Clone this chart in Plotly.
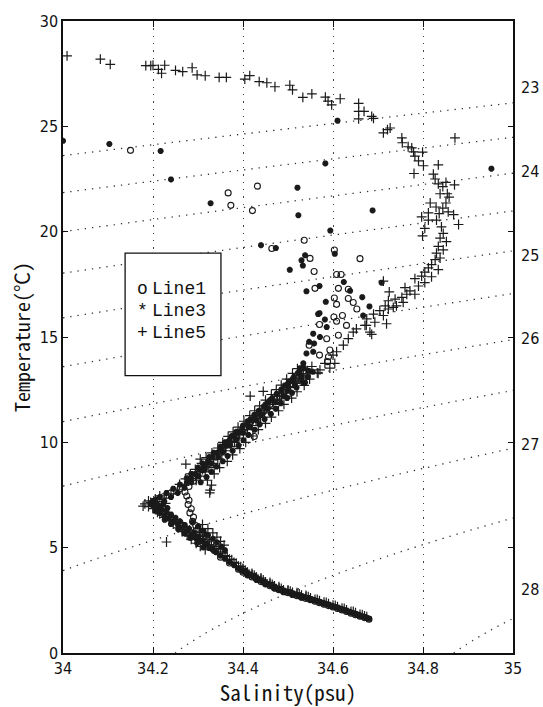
import numpy as np
import plotly.graph_objects as go

# ---------------- data ----------------
SERIES_NAMES = ["Line1", "Line3", "Line5"]

# Line1 (open circles): salinity (psu), temperature (degC)
line1_pts = [
    (34.150, 23.86), (34.367, 21.84), (34.373, 21.25), (34.432, 22.16), (34.421, 21.00),
    (34.536, 19.59), (34.464, 19.20), (34.603, 19.13), (34.660, 18.72), (34.549, 18.73),
    (34.558, 18.11), (34.560, 17.31), (34.608, 17.97), (34.618, 17.97), (34.612, 17.31),
    (34.634, 17.27), (34.603, 16.85), (34.608, 16.55), (34.634, 16.83), (34.645, 16.64),
    (34.653, 16.33), (34.621, 16.02), (34.602, 15.95), (34.608, 15.75), (34.630, 15.55),
    (34.570, 15.59), (34.586, 14.92), (34.612, 15.08), (34.547, 14.61), (34.593, 14.38),
    (34.590, 14.06), (34.570, 14.14), (34.588, 13.83),
    (34.535, 13.40), (34.520, 13.05), (34.505, 12.75), (34.490, 12.40), (34.475, 12.10),
    (34.460, 11.80), (34.445, 11.45), (34.430, 11.15), (34.415, 10.85), (34.400, 10.50),
    (34.385, 10.20), (34.370, 9.90), (34.355, 9.60), (34.340, 9.30), (34.325, 9.00),
    (34.310, 8.70), (34.300, 8.40), (34.290, 8.15), (34.280, 7.90), (34.425, 10.28),
    (34.260, 7.80), (34.271, 7.64), (34.275, 7.45), (34.280, 7.25), (34.278, 7.05),
    (34.285, 6.85), (34.282, 6.65), (34.290, 6.45), (34.288, 6.25), (34.295, 6.05),
    (34.300, 5.85), (34.310, 5.65), (34.318, 5.45), (34.223, 7.42), (34.240, 7.60),
    (34.330, 5.00), (34.350, 4.55), (34.370, 4.27), (34.390, 3.98), (34.410, 3.74),
    (34.430, 3.52), (34.450, 3.30), (34.470, 3.10), (34.490, 2.93), (34.510, 2.79),
    (34.530, 2.66), (34.550, 2.53), (34.570, 2.39), (34.590, 2.25), (34.610, 2.11),
    (34.630, 1.97), (34.650, 1.82), (34.670, 1.68),
    (34.400, 3.83), (34.420, 3.61), (34.440, 3.39), (34.460, 3.19), (34.480, 3.00),
    (34.500, 2.86), (34.520, 2.72), (34.540, 2.59), (34.560, 2.46), (34.580, 2.32),
    (34.600, 2.18), (34.620, 2.04), (34.640, 1.89), (34.660, 1.75), (34.680, 1.60),
]

# Line3 (asterisks)
line3_pts = [
    (34.000, 24.31), (34.103, 24.16), (34.217, 23.83), (34.240, 22.48), (34.328, 21.35),
    (34.521, 22.09), (34.523, 20.78), (34.583, 23.24), (34.610, 25.27), (34.594, 20.05),
    (34.688, 21.01), (34.952, 22.99), (34.440, 19.36), (34.473, 19.22), (34.538, 18.88),
    (34.530, 18.64), (34.533, 18.39), (34.504, 18.19), (34.604, 18.95), (34.541, 17.17),
    (34.570, 17.42), (34.584, 16.67), (34.570, 16.13), (34.624, 17.61), (34.665, 16.89),
    (34.681, 16.45), (34.638, 17.19), (34.582, 15.83), (34.708, 17.58), (34.567, 16.09),
    (34.586, 15.47), (34.556, 15.16), (34.571, 15.00), (34.547, 14.77), (34.558, 14.69),
    (34.541, 14.22), (34.556, 14.30), (34.534, 13.75), (34.527, 13.52), (34.538, 12.84),
    (34.667, 16.02),
    (34.535, 13.55), (34.525, 13.30), (34.510, 13.00), (34.500, 12.80), (34.485, 12.50),
    (34.475, 12.30), (34.460, 12.00), (34.450, 11.80), (34.435, 11.50), (34.425, 11.30),
    (34.410, 11.00), (34.400, 10.80), (34.385, 10.50), (34.375, 10.30), (34.360, 10.00),
    (34.350, 9.80), (34.335, 9.50), (34.325, 9.30), (34.310, 9.00), (34.300, 8.80),
    (34.285, 8.50), (34.275, 8.30), (34.260, 8.00), (34.245, 7.80), (34.230, 7.60),
    (34.215, 7.40), (34.200, 7.20),
    (34.545, 13.40), (34.530, 13.10), (34.515, 12.75), (34.500, 12.45), (34.490, 12.20),
    (34.470, 11.90), (34.455, 11.60), (34.440, 11.30), (34.430, 11.05), (34.415, 10.75),
    (34.400, 10.45), (34.385, 10.15), (34.370, 9.85), (34.355, 9.55), (34.345, 9.30),
    (34.330, 9.00), (34.315, 8.70), (34.300, 8.40), (34.285, 8.10), (34.270, 7.85),
    (34.255, 7.60), (34.240, 7.40), (34.225, 7.20), (34.210, 7.05),
    (34.276, 8.10), (34.285, 8.30), (34.294, 8.50), (34.303, 8.70), (34.315, 8.90),
    (34.322, 9.10), (34.332, 9.30), (34.342, 9.50), (34.351, 9.70), (34.361, 9.90),
    (34.370, 10.10), (34.380, 10.30), (34.389, 10.50), (34.399, 10.70), (34.410, 10.90),
    (34.417, 11.10), (34.427, 11.30), (34.437, 11.50), (34.446, 11.70), (34.456, 11.90),
    (34.465, 12.10), (34.475, 12.30), (34.486, 12.50), (34.493, 12.70), (34.503, 12.90),
    (34.513, 13.10), (34.522, 13.30), (34.532, 13.50),
    (34.306, 8.10), (34.319, 8.35), (34.330, 8.60), (34.341, 8.85), (34.355, 9.10),
    (34.366, 9.35), (34.377, 9.60), (34.390, 9.85), (34.401, 10.10), (34.412, 10.35),
    (34.426, 10.60), (34.437, 10.85), (34.448, 11.10), (34.462, 11.35), (34.473, 11.60),
    (34.484, 11.85), (34.498, 12.10), (34.509, 12.35), (34.519, 12.60), (34.533, 12.85),
    (34.544, 13.10), (34.555, 13.35),
    (34.200, 7.00), (34.210, 6.90), (34.220, 6.80), (34.230, 6.70), (34.240, 6.58),
    (34.250, 6.42), (34.260, 6.25), (34.270, 6.08), (34.280, 5.90), (34.290, 5.70),
    (34.300, 5.50), (34.310, 5.33), (34.320, 5.17), (34.330, 4.95), (34.340, 4.78),
    (34.350, 4.62), (34.360, 4.47), (34.370, 4.32), (34.380, 4.17), (34.390, 4.02),
    (34.205, 6.75), (34.215, 6.65), (34.225, 6.50), (34.235, 6.40), (34.245, 6.25),
    (34.255, 6.10), (34.265, 5.95), (34.275, 5.80), (34.285, 5.60), (34.295, 5.45),
    (34.305, 5.30), (34.315, 5.15), (34.325, 4.98), (34.335, 4.85),
    (34.195, 7.10), (34.205, 7.28), (34.212, 6.98), (34.222, 7.05), (34.232, 6.88),
    (34.226, 6.32), (34.240, 6.12), (34.256, 5.88), (34.270, 5.68), (34.284, 5.46),
    (34.298, 5.22), (34.312, 5.02), (34.300, 6.00), (34.308, 5.80), (34.318, 5.62),
    (34.288, 6.20), (34.301, 6.02), (34.312, 5.80), (34.322, 5.60), (34.333, 5.42),
    (34.342, 5.25), (34.352, 5.05), (34.360, 4.88),
    (34.400, 3.88), (34.410, 3.78), (34.420, 3.66), (34.430, 3.55), (34.440, 3.44),
    (34.450, 3.33), (34.460, 3.23), (34.470, 3.12), (34.480, 3.02), (34.490, 2.96),
    (34.500, 2.90), (34.510, 2.82), (34.520, 2.76), (34.530, 2.70), (34.540, 2.63),
    (34.550, 2.56), (34.560, 2.50), (34.570, 2.43), (34.580, 2.36), (34.590, 2.29),
    (34.600, 2.22), (34.610, 2.15), (34.620, 2.08), (34.630, 2.00), (34.640, 1.93),
    (34.650, 1.86), (34.660, 1.78), (34.670, 1.71), (34.680, 1.63),
    (34.410, 3.68), (34.430, 3.46), (34.450, 3.25), (34.470, 3.05), (34.490, 2.88),
    (34.510, 2.75), (34.530, 2.62),
    (34.395, 3.95), (34.405, 3.83), (34.415, 3.72), (34.425, 3.60), (34.435, 3.50),
    (34.445, 3.38), (34.455, 3.28), (34.465, 3.17), (34.475, 3.07), (34.485, 2.99),
    (34.495, 2.93), (34.505, 2.86), (34.515, 2.79), (34.525, 2.73), (34.535, 2.66),
    (34.545, 2.60), (34.555, 2.53), (34.565, 2.46), (34.575, 2.39), (34.585, 2.32),
    (34.595, 2.25), (34.605, 2.18), (34.615, 2.11), (34.625, 2.04), (34.635, 1.96),
    (34.645, 1.89), (34.655, 1.82), (34.665, 1.74), (34.675, 1.67),
]

# Line5 (plus signs)
line5_pts = [
    (34.009, 28.34), (34.083, 28.19), (34.105, 27.94), (34.184, 27.88), (34.195, 27.88),
    (34.200, 27.90), (34.212, 27.70), (34.219, 27.52), (34.226, 27.90), (34.250, 27.66),
    (34.266, 27.60), (34.287, 27.78), (34.298, 27.44), (34.316, 27.40), (34.347, 27.32),
    (34.363, 27.32), (34.404, 27.24), (34.415, 27.41), (34.436, 27.12), (34.453, 27.07),
    (34.471, 26.88), (34.504, 26.95), (34.510, 26.73), (34.533, 26.37), (34.553, 26.54),
    (34.583, 26.39), (34.589, 26.20), (34.597, 26.02), (34.616, 26.31), (34.657, 26.09),
    (34.657, 25.71), (34.669, 25.71), (34.657, 25.35), (34.686, 25.47), (34.690, 25.38),
    (34.727, 24.92), (34.712, 24.69), (34.721, 24.84), (34.753, 24.45), (34.754, 24.22),
    (34.767, 24.03), (34.775, 23.98), (34.779, 23.79), (34.782, 23.59), (34.799, 23.78),
    (34.790, 23.36), (34.801, 23.13), (34.780, 22.76), (34.834, 23.17), (34.823, 22.73),
    (34.827, 22.50), (34.834, 22.27), (34.844, 22.14), (34.851, 22.34), (34.870, 22.22),
    (34.838, 21.80), (34.854, 21.80), (34.858, 21.64), (34.816, 21.36), (34.829, 21.17),
    (34.844, 21.12), (34.851, 21.36), (34.868, 20.81), (34.812, 20.89), (34.836, 20.86),
    (34.856, 20.94), (34.879, 20.34), (34.830, 20.55), (34.812, 20.55), (34.797, 20.70),
    (34.804, 20.16), (34.799, 19.80), (34.841, 20.23), (34.845, 19.92), (34.838, 19.69),
    (34.852, 19.53), (34.834, 19.30), (34.845, 19.14), (34.830, 18.98), (34.838, 18.75),
    (34.827, 18.67), (34.819, 18.44), (34.834, 18.20), (34.812, 18.28), (34.804, 18.08),
    (34.819, 17.86), (34.797, 17.89), (34.782, 17.77), (34.804, 17.58), (34.790, 17.42),
    (34.771, 17.19), (34.782, 17.03), (34.764, 17.03), (34.753, 16.88), (34.738, 16.80),
    (34.756, 16.64), (34.723, 16.72), (34.716, 16.48), (34.734, 16.41), (34.704, 16.25),
    (34.690, 16.09), (34.712, 16.02), (34.675, 15.86), (34.693, 15.70), (34.671, 15.55),
    (34.682, 15.23), (34.719, 15.63), (34.760, 17.34), (34.871, 24.45),
    (34.741, 16.48), (34.723, 16.33), (34.674, 15.55), (34.652, 15.39), (34.645, 15.23),
    (34.686, 15.12), (34.634, 14.92), (34.623, 14.61), (34.608, 14.30), (34.600, 14.14),
    (34.582, 13.75), (34.604, 13.75), (34.593, 13.52), (34.571, 13.44), (34.567, 13.28),
    (34.549, 13.28), (34.527, 13.05), (34.516, 12.81), (34.497, 12.50), (34.482, 12.19),
    (34.467, 11.95), (34.453, 11.64), (34.438, 11.41), (34.423, 11.09), (34.408, 10.78),
    (34.393, 10.47), (34.378, 10.23), (34.364, 9.92), (34.353, 9.61),
    (34.416, 12.19), (34.445, 12.42), (34.497, 12.19), (34.712, 17.65), (34.725, 17.14),
    (34.273, 8.97), (34.305, 9.20), (34.182, 7.08), (34.230, 5.27), (34.327, 7.73),
    (34.330, 7.97), (34.178, 6.97), (34.326, 7.60),
    (34.530, 13.15), (34.520, 12.90), (34.505, 12.65), (34.490, 12.35), (34.475, 12.05),
    (34.460, 11.80), (34.445, 11.50), (34.430, 11.25), (34.415, 10.95), (34.400, 10.60),
    (34.385, 10.35), (34.370, 10.05), (34.360, 9.75), (34.345, 9.45), (34.335, 9.20),
    (34.320, 8.95), (34.310, 8.70), (34.295, 8.45), (34.285, 8.20), (34.270, 7.95),
    (34.255, 7.75), (34.240, 7.55), (34.225, 7.35), (34.210, 7.20), (34.200, 7.05),
    (34.296, 8.20), (34.305, 8.40), (34.316, 8.60), (34.324, 8.80), (34.334, 9.00),
    (34.344, 9.20), (34.353, 9.40), (34.362, 9.60), (34.373, 9.80), (34.381, 10.00),
    (34.391, 10.20), (34.401, 10.40), (34.410, 10.60), (34.420, 10.80), (34.429, 11.00),
    (34.439, 11.20), (34.448, 11.40), (34.458, 11.60), (34.467, 11.80), (34.477, 12.00),
    (34.486, 12.20), (34.496, 12.40), (34.505, 12.60), (34.515, 12.80), (34.524, 13.00),
    (34.534, 13.20), (34.543, 13.40), (34.553, 13.60),
    (34.259, 8.00), (34.272, 8.27), (34.283, 8.50), (34.294, 8.72), (34.308, 9.00),
    (34.318, 9.27), (34.331, 9.50), (34.344, 9.73), (34.355, 10.00), (34.367, 10.28),
    (34.378, 10.50), (34.389, 10.72), (34.402, 11.00), (34.415, 11.27), (34.426, 11.50),
    (34.437, 11.73), (34.450, 12.00), (34.463, 12.27), (34.474, 12.50), (34.485, 12.72),
    (34.497, 13.00), (34.510, 13.27), (34.521, 13.50),
    (34.321, 8.20), (34.336, 8.50), (34.348, 8.80), (34.365, 9.10), (34.377, 9.40),
    (34.393, 9.70), (34.406, 10.00), (34.422, 10.30), (34.434, 10.60), (34.450, 10.90),
    (34.463, 11.20), (34.479, 11.50), (34.491, 11.80), (34.508, 12.10), (34.520, 12.40),
    (34.536, 12.70), (34.548, 13.00), (34.565, 13.30),
    (34.190, 6.95), (34.200, 6.85), (34.215, 6.75), (34.230, 6.55), (34.245, 6.35),
    (34.260, 6.15), (34.275, 5.95), (34.290, 5.75), (34.300, 5.60), (34.310, 5.42),
    (34.320, 5.28), (34.330, 5.12), (34.340, 4.95), (34.350, 4.80), (34.360, 4.62),
    (34.370, 4.46), (34.380, 4.30), (34.390, 4.12), (34.400, 3.97),
    (34.195, 7.15), (34.205, 7.32), (34.215, 7.46), (34.210, 6.68), (34.222, 6.58),
    (34.236, 6.44), (34.228, 7.10), (34.190, 7.22), (34.252, 6.22), (34.266, 6.04),
    (34.281, 5.84), (34.296, 5.62), (34.265, 5.76), (34.280, 5.55), (34.302, 5.36),
    (34.316, 5.56), (34.326, 5.40), (34.335, 5.05), (34.345, 4.90), (34.355, 4.74),
    (34.365, 4.58), (34.375, 4.43), (34.385, 4.26), (34.395, 4.10),
    (34.215, 6.60), (34.225, 6.44), (34.236, 6.28), (34.245, 6.12), (34.256, 5.94),
    (34.265, 5.77), (34.276, 5.58), (34.285, 5.39), (34.296, 5.21), (34.305, 5.06),
    (34.316, 4.90),
    (34.310, 6.10), (34.322, 5.90), (34.333, 5.70), (34.342, 5.50), (34.350, 5.30),
    (34.358, 5.12),
    (34.410, 3.84), (34.420, 3.72), (34.430, 3.60), (34.440, 3.50), (34.450, 3.38),
    (34.460, 3.28), (34.470, 3.18), (34.480, 3.08), (34.490, 3.00), (34.500, 2.95),
    (34.510, 2.88), (34.520, 2.81), (34.530, 2.75), (34.540, 2.68), (34.550, 2.61),
    (34.560, 2.55), (34.570, 2.48), (34.580, 2.41), (34.590, 2.34), (34.600, 2.27),
    (34.610, 2.20), (34.620, 2.13), (34.630, 2.05), (34.640, 1.98), (34.650, 1.91),
    (34.660, 1.83), (34.670, 1.76),
    (34.405, 3.93), (34.425, 3.70), (34.445, 3.47), (34.465, 3.26), (34.485, 3.07),
    (34.505, 2.94), (34.525, 2.80), (34.545, 2.67), (34.565, 2.54), (34.585, 2.40),
    (34.605, 2.26), (34.625, 2.12), (34.645, 1.97), (34.665, 1.82), (34.675, 1.72),
    (34.400, 4.02), (34.420, 3.78), (34.440, 3.56), (34.460, 3.35), (34.480, 3.15),
    (34.500, 3.00), (34.520, 2.86), (34.540, 2.73),
]

# isopycnal (sigma-t) levels drawn as dotted lines, and their labels on the right
SIGMA_LEVELS = [23.0, 23.5, 24.0, 24.5, 25.0, 25.5, 26.0, 26.5, 27.0, 27.5, 28.0]
SIGMA_LABELS = ["23", "24", "25", "26", "27", "28"]
SIGMA_LABEL_T = [26.82, 22.87, 18.89, 14.92, 9.92, 3.0]   # vertical placement

X_TICKS = [34.0, 34.2, 34.4, 34.6, 34.8, 35.0]
X_TICKTEXT = ["34", "34.2", "34.4", "34.6", "34.8", "35"]
Y_TICKS = [0, 5, 10, 15, 20, 25, 30]

LEGEND_SYMBOLS = ["o", "*", "+"]


def sigma_t(S, T):
    """UNESCO (1980) density of sea water at p = 0, minus 1000."""
    rw = (999.842594 + 6.793952e-2 * T - 9.095290e-3 * T**2 + 1.001685e-4 * T**3
          - 1.120083e-6 * T**4 + 6.536332e-9 * T**5)
    A = 0.824493 - 4.0899e-3 * T + 7.6438e-5 * T**2 - 8.2467e-7 * T**3 + 5.3875e-9 * T**4
    B = -5.72466e-3 + 1.0227e-4 * T - 1.6546e-6 * T**2
    C = 4.8314e-4
    return rw + A * S + B * S**1.5 + C * S**2 - 1000.0


sg = np.linspace(34.0, 35.0, 201)
tg = np.linspace(0.0, 30.0, 301)
SS, TT = np.meshgrid(sg, tg)
Z = sigma_t(SS, TT)

INK = "#1a1a1a"
fig = go.Figure()

fig.add_trace(go.Contour(
    x=sg, y=tg, z=Z,
    contours=dict(coloring="none", start=SIGMA_LEVELS[0], end=SIGMA_LEVELS[-1],
                  size=SIGMA_LEVELS[1] - SIGMA_LEVELS[0], showlabels=False),
    line=dict(color="#333333", width=1.3, dash="1.3px,6px"),
    showscale=False, hoverinfo="skip", showlegend=False, name="sigma-t",
))

styles = {
    "Line1": dict(symbol="circle-open", size=6, color=INK, line=dict(width=1.1, color=INK)),
    "Line3": dict(symbol="asterisk-open", size=5, color=INK, line=dict(width=2.0, color=INK)),
    "Line5": dict(symbol="cross-thin-open", size=7, color=INK, line=dict(width=1.2, color=INK)),
}
for name, pts in zip(SERIES_NAMES, [line1_pts, line3_pts, line5_pts]):
    s = [p[0] for p in pts]
    t = [p[1] for p in pts]
    fig.add_trace(go.Scatter(x=s, y=t, mode="markers", name=name,
                             marker=styles[name], showlegend=False))

tick_font = dict(family="Liberation Sans Narrow, DejaVu Sans Condensed, Arial Narrow, sans-serif",
                 size=16, color="#111")
title_font = dict(family="Noto Sans Mono CJK JP, Liberation Mono, monospace", size=21, color="#111")

fig.update_xaxes(
    range=[34.0, 35.0], tickvals=X_TICKS, ticktext=X_TICKTEXT,
    showgrid=True, gridcolor="#444", griddash="1.3px,6px", gridwidth=1.1,
    showline=True, linecolor="#111", linewidth=1.5, mirror="ticks",
    ticks="inside", ticklen=6, tickcolor="#111", zeroline=False,
    tickfont=dict(tick_font, size=16),
    title=dict(text="Salinity(psu)", font=title_font, standoff=2),
)
fig.update_yaxes(
    range=[0, 30], tickvals=Y_TICKS,
    showgrid=False, showline=True, linecolor="#111", linewidth=1.5, mirror="ticks",
    ticks="inside", ticklen=5, tickcolor="#111", zeroline=False,
    tickfont=tick_font,
    title=dict(text="Temperature(℃)", font=dict(title_font, size=20), standoff=4),
)

# legend box drawn as a white framed rectangle with text entries
fig.add_shape(type="rect", xref="x", yref="y", x0=34.138, x1=34.351, y0=13.17, y1=18.98,
              line=dict(color="#111", width=1.3), fillcolor="white", layer="above")
legend_font = dict(family="Liberation Mono, DejaVu Sans Mono, monospace", size=18, color="#111")
for i, (sym, name) in enumerate(zip(LEGEND_SYMBOLS, SERIES_NAMES)):
    yv = 17.27 - i * 1.03
    fig.add_annotation(x=34.176, y=yv, xref="x", yref="y", text=sym, showarrow=False,
                       xanchor="center", yanchor="middle", font=legend_font)
    fig.add_annotation(x=34.193, y=yv, xref="x", yref="y", text=name, showarrow=False,
                       xanchor="left", yanchor="middle", font=legend_font)

for lab, tv in zip(SIGMA_LABELS, SIGMA_LABEL_T):
    fig.add_annotation(x=1.0, y=tv, xref="paper", yref="y", text=lab, showarrow=False,
                       xanchor="left", yanchor="middle", xshift=6, font=tick_font)

fig.update_layout(
    width=543, height=707,
    margin=dict(l=63, r=30, t=15, b=52),
    paper_bgcolor="white", plot_bgcolor="white",
    showlegend=False,
)

fig.write_html("out.html", config={"displayModeBar": False},
               post_script="document.body.style.margin='0px';")
